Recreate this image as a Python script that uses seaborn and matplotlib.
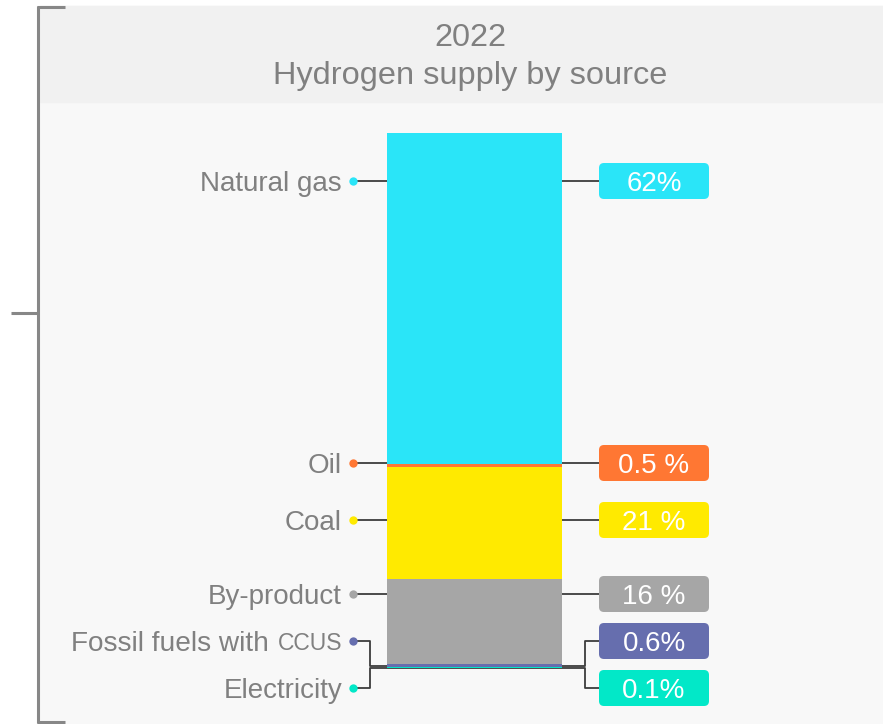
import matplotlib
matplotlib.use("Agg")
import matplotlib.pyplot as plt
from matplotlib.patches import Rectangle, FancyBboxPatch
import pandas as pd
import seaborn as sns

# ---- data -------------------------------------------------------------
year = "2022"
title = "Hydrogen supply by source"
sources = ["Natural gas", "Oil", "Coal", "By-product", "Fossil fuels with CCUS", "Electricity"]
shares = [62, 0.5, 21, 16, 0.6, 0.1]
share_labels = ["62%", "0.5 %", "21 %", "16 %", "0.6%", "0.1%"]
colors = ["#2ae5f8", "#ff7733", "#ffea00", "#a6a6a6", "#666eae", "#02e8c8"]

# ---- layout -------------------------------------------------------------
W, H = 883, 724
bar_top_px, bar_bottom_px = 133, 668
bar_left_px, bar_right_px = 387, 562
label_rows_px = [181, 463, 520, 594, 641, 688]
elbowed = [False, False, False, False, True, True]
text_grey = "#808080"
line_col = "#3c3c3c"
font = "Liberation Sans"

sns.set_theme(style="white")
plt.rcParams["font.family"] = [font, "DejaVu Sans"]

fig = plt.figure(figsize=(W / 100, H / 100), dpi=100, facecolor="white")

# pixel-space axes for the frame and annotations
px = fig.add_axes([0, 0, 1, 1], zorder=0)
px.set_xlim(0, W)
px.set_ylim(H, 0)
px.axis("off")

# data axes for the stacked bar
ax = fig.add_axes([0, 0, 1, 1], zorder=1)
ax.patch.set_alpha(0)

# stacked bar: bottom-up cumulative totals, drawn tallest first
stack_order = list(range(len(sources)))[::-1]       # Electricity at the bottom
cum = {}
running = 0.0
for i in stack_order:
    lo = running
    running += shares[i]
    cum[i] = (lo, running)
total = running

for i in sorted(cum, key=lambda k: -cum[k][1]):
    df = pd.DataFrame({"bar": [year], "top": [cum[i][1]]})
    sns.barplot(data=df, x="bar", y="top", color=colors[i], width=0.8,
                linewidth=0, saturation=1, errorbar=None, ax=ax, zorder=2)

scale = (bar_bottom_px - bar_top_px) / total           # px per %
ax.set_ylim(-(H - bar_bottom_px) / scale, total + bar_top_px / scale)
unit = (bar_right_px - bar_left_px) / 0.8
x0 = (bar_left_px + bar_right_px) / 2
ax.set_xlim(-x0 / unit, (W - x0) / unit)
ax.axis("off")


def ypx(v):
    return px.transData.inverted().transform(ax.transData.transform((0, v)))[1]


# background panels
px.add_patch(Rectangle((40, 6), W - 40, H - 6, color="#f8f8f8", zorder=0))
px.add_patch(Rectangle((40, 6), W - 40, 96, color="#f1f1f1", zorder=0))

# bracket on the left
bk = dict(color="#878787", lw=2.2, solid_capstyle="butt", zorder=1)
px.plot([38, 38], [6, 723], **bk)
px.plot([37, 65], [7, 7], **bk)
px.plot([37, 65], [722, 722], **bk)
px.plot([11, 38], [313, 313], **bk)

# title
px.text(470, 38, year, ha="center", va="center", fontsize=23.4, color=text_grey)
px.text(470, 76, title, ha="center", va="center", fontsize=23.4, color=text_grey)

# labels, leader lines and value boxes
renderer = fig.canvas.get_renderer()
dot_x, text_x = 353, 342
elbow_l, elbow_r = 370, 585
box_x, box_w, box_h = 599, 110, 36

for i, name in enumerate(sources):
    yl = label_rows_px[i]
    lo, hi = cum[i]
    mid = (lo + hi) / 2
    lk = dict(color=line_col, lw=1.3, zorder=1, solid_capstyle="butt")
    if elbowed[i]:
        ym = ypx(mid)
        px.plot([dot_x, elbow_l, elbow_l, elbow_r, elbow_r, box_x],
                [yl, yl, ym, ym, yl, yl], **lk)
    else:
        px.plot([dot_x, bar_left_px], [yl, yl], **lk)
        px.plot([bar_right_px, box_x], [yl, yl], **lk)
    px.plot([dot_x], [yl], "o", ms=6, color=colors[i], mec="none", zorder=3)

    if name.endswith("CCUS"):
        t = px.text(text_x, yl, "CCUS", ha="right", va="center_baseline",
                    fontsize=16.5, color=text_grey)
        w = t.get_window_extent(renderer).width
        px.text(text_x - w - 9, yl, name[:-5], ha="right", va="center_baseline",
                fontsize=20.2, color=text_grey)
    else:
        px.text(text_x, yl, name, ha="right", va="center_baseline",
                fontsize=20, color=text_grey)

    px.add_patch(FancyBboxPatch((box_x, yl - box_h / 2), box_w, box_h,
                                boxstyle="round,pad=0,rounding_size=5",
                                fc=colors[i], ec="none", zorder=2))
    px.text(box_x + box_w / 2, yl, share_labels[i], ha="center", va="center_baseline",
            fontsize=20, color="white", zorder=3)

fig.savefig("out.png", dpi=100, facecolor="white")
